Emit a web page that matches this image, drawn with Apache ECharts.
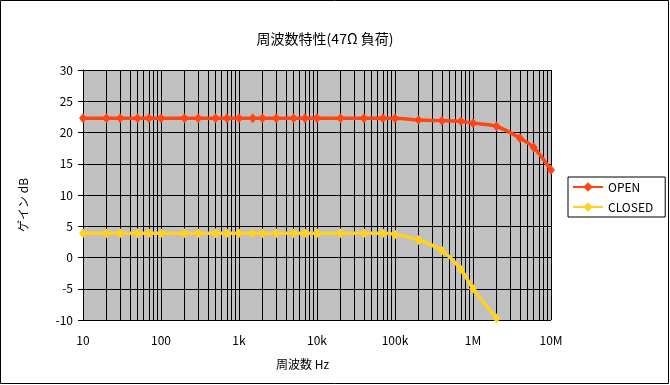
<!DOCTYPE html>
<html>
<head>
<meta charset="utf-8">
<script src="https://cdn.jsdelivr.net/npm/echarts@6/dist/echarts.min.js"></script>
<style>html,body{margin:0;padding:0;background:#fff}#c{width:670px;height:385px}</style>
</head>
<body>
<div id="c"></div>
<script>
// Frequencies (Hz)
var freqOpen = [10,20,30,50,70,100,200,300,500,700,1000,1500,2000,3000,5000,7000,10000,20000,40000,70000,100000,200000,400000,700000,1000000,2000000,4000000,6000000,10000000];
var gainOpen = [22.3,22.3,22.3,22.3,22.3,22.3,22.3,22.3,22.3,22.3,22.3,22.3,22.3,22.3,22.3,22.3,22.3,22.3,22.3,22.3,22.3,22.0,21.9,21.8,21.5,21.0,19.1,17.6,14.0];
var freqClosed = [10,20,30,50,70,100,200,300,500,700,1000,1500,2000,3000,5000,7000,10000,20000,40000,70000,100000,200000,400000,700000,1000000,2000000];
var gainClosed = [3.9,3.9,3.9,3.9,3.9,3.9,3.9,3.9,3.9,3.9,3.9,3.9,3.9,3.9,3.9,3.9,3.9,3.9,3.9,3.9,3.7,2.8,1.1,-1.9,-5.0,-9.7];
var seriesNames = ['OPEN','CLOSED'];
var xTickLabels = {10:'10',100:'100',1000:'1k',10000:'10k',100000:'100k',1000000:'1M',10000000:'10M'};
var titleText = '周波数特性(47Ω 負荷)';
var xName = '周波数 Hz';
var yName = 'ゲイン dB';

// minor gridline positions (2..9 per decade)
var minorLines = [];
for (var d = 10; d < 1e7; d *= 10) {
  for (var m = 2; m <= 9; m++) minorLines.push({xAxis: d * m});
}
function pairs(xs, ys){ return xs.map(function(x,i){return [x, ys[i]];}); }

var FONT = '"Noto Sans CJK JP", "Noto Sans", sans-serif';
var chart = echarts.init(document.getElementById('c'), null, {renderer:'canvas'});
chart.setOption({
  backgroundColor: '#ffffff',
  animation: false,
  textStyle: {fontFamily: FONT},
  title: {
    text: titleText, left: 320, top: 27, textAlign: 'center',
    textStyle: {fontFamily: FONT, fontSize: 14, fontWeight: 'normal', color: '#000'}
  },
  grid: {left: 83, top: 70, width: 468, height: 250, backgroundColor: '#c0c0c0', show: true, borderWidth: 0},
  legend: {
    orient: 'vertical', left: 568, top: 177,
    backgroundColor: '#fff', borderColor: '#000', borderWidth: 1, borderRadius: 0,
    padding: [4, 12, 4, 4], itemGap: 8, itemWidth: 30, itemHeight: 12,
    textStyle: {fontFamily: FONT, fontSize: 12, color: '#000'},
    data: seriesNames
  },
  xAxis: {
    type: 'log', logBase: 10, min: 10, max: 1e7,
    axisLine: {show: true, lineStyle: {color: '#000', width: 1}},
    axisTick: {show: true, length: 4, lineStyle: {color: '#000'}},
    axisLabel: {margin: 14, color: '#000', fontSize: 12, fontFamily: FONT,
      formatter: function(v){ var k = Math.round(v); return xTickLabels[k] !== undefined ? xTickLabels[k] : ''; }},
    splitLine: {show: true, lineStyle: {color: '#000', width: 1}}
  },
  yAxis: {
    type: 'value', min: -10, max: 30, interval: 5,
    axisLine: {show: true, lineStyle: {color: '#000', width: 1}},
    axisTick: {show: true, length: 5, lineStyle: {color: '#000'}},
    axisLabel: {margin: 10, color: '#000', fontSize: 12, fontFamily: FONT},
    splitLine: {show: true, lineStyle: {color: '#000', width: 1}}
  },
  graphic: [
    {type: 'rect', shape: {x: 0.5, y: 0.5, width: 668, height: 383}, style: {fill: 'none', stroke: '#000', lineWidth: 1}, silent: true, z: 100},
    {type: 'text', left: 276, top: 358, style: {text: xName, font: '12px ' + FONT, fill: '#000'}},
    {type: 'text', x: 17, y: 232, rotation: Math.PI / 2, style: {text: yName, font: '12px ' + FONT, fill: '#000'}}
  ],
  series: [
    {
      name: seriesNames[0], type: 'line', data: pairs(freqOpen, gainOpen),
      smooth: 0.3, symbol: 'diamond', symbolSize: [8, 10], showAllSymbol: true,
      lineStyle: {color: '#ff4513', width: 3.5}, itemStyle: {color: '#ff4513'},
      z: 3,
      markLine: {silent: true, symbol: ['none','none'], label: {show: false},
        lineStyle: {color: '#000', width: 1, type: 'solid'}, data: minorLines, z: 1}
    },
    {
      name: seriesNames[1], type: 'line', data: pairs(freqClosed, gainClosed),
      smooth: 0.3, symbol: 'diamond', symbolSize: [8, 10], showAllSymbol: true,
      lineStyle: {color: '#ffd21f', width: 3.5}, itemStyle: {color: '#ffd21f'},
      z: 3
    }
  ]
});
</script>
</body>
</html>
